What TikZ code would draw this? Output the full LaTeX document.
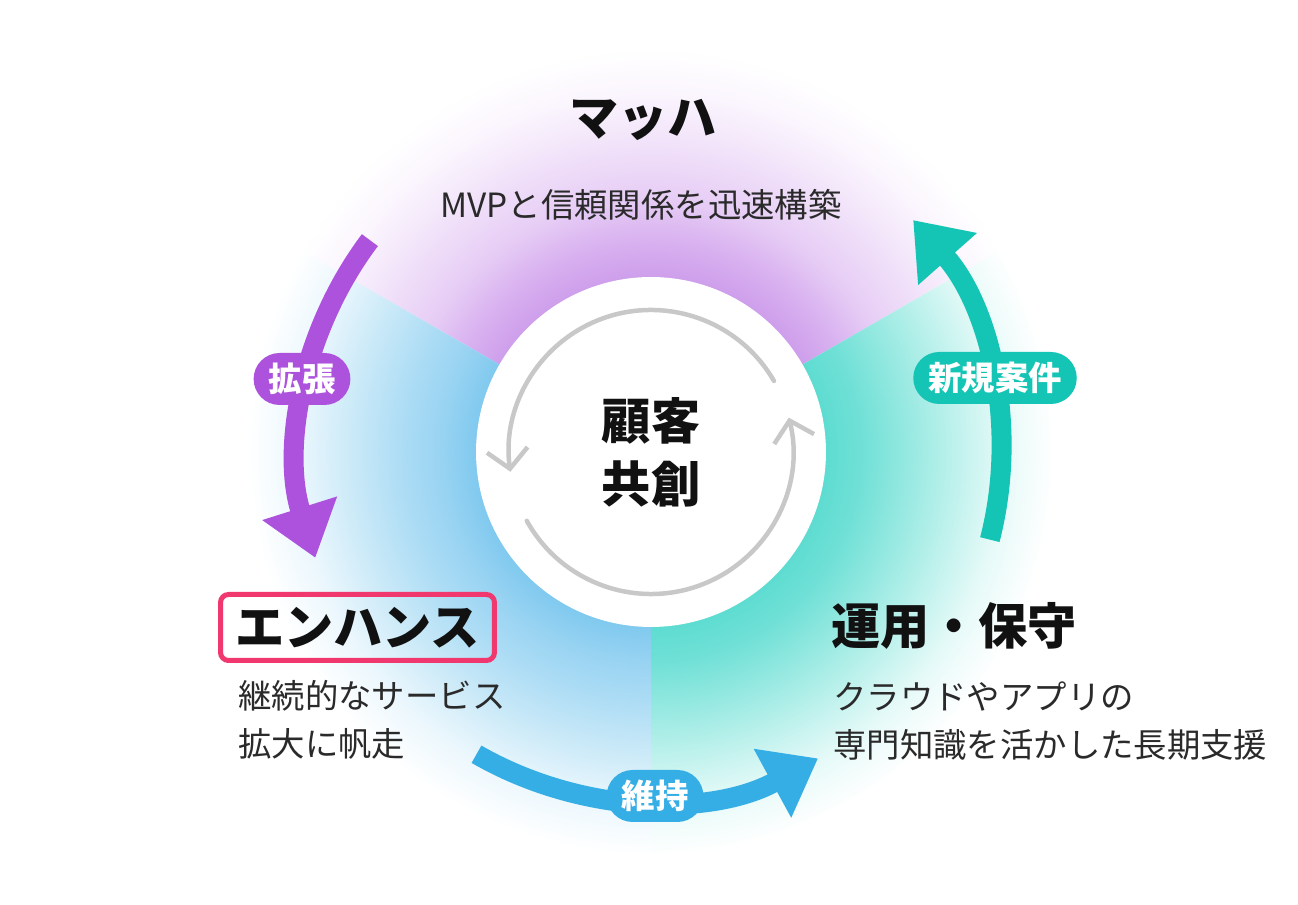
\documentclass[tikz,border=0pt]{standalone}
\usepackage{fontspec}
\setmainfont{Noto Sans CJK JP}
\usetikzlibrary{arrows.meta}
\definecolor{purpA}{HTML}{CE9EEB}
\definecolor{purpB}{HTML}{D9B2F0}
\definecolor{purpC}{HTML}{E6CCF5}
\definecolor{purpD}{HTML}{F5EAFB}
\definecolor{purpE}{HTML}{FBF6FE}
\definecolor{blueA}{HTML}{80C9EF}
\definecolor{blueB}{HTML}{98D3F2}
\definecolor{blueC}{HTML}{AEDDF5}
\definecolor{blueD}{HTML}{CCEAF8}
\definecolor{blueE}{HTML}{EBF7FD}
\definecolor{tealA}{HTML}{5EDCD1}
\definecolor{tealB}{HTML}{70E0D6}
\definecolor{tealC}{HTML}{92E8E0}
\definecolor{tealD}{HTML}{BDF1EC}
\definecolor{tealE}{HTML}{E6FAF8}
\definecolor{arrPurple}{HTML}{AC52DC}
\definecolor{arrTeal}{HTML}{14C4B4}
\definecolor{arrBlue}{HTML}{35AEE5}
\definecolor{ringGray}{HTML}{C8C8C8}
\definecolor{pinkBox}{HTML}{F0386E}
\definecolor{headText}{HTML}{111111}
\definecolor{bodyText}{HTML}{2A2A2A}
\pgfdeclareradialshading{purpsh}{\pgfpoint{0bp}{0bp}}{color(0bp)=(purpA); color(10.4bp)=(purpA); color(12.7bp)=(purpB); color(15bp)=(purpC); color(19.6bp)=(purpD); color(21.5bp)=(purpE); color(24bp)=(white); color(50bp)=(white)}
\pgfdeclareradialshading{bluesh}{\pgfpoint{0bp}{0bp}}{color(0bp)=(blueA); color(10.4bp)=(blueA); color(12.5bp)=(blueB); color(15bp)=(blueC); color(18bp)=(blueD); color(21bp)=(blueE); color(24bp)=(white); color(50bp)=(white)}
\pgfdeclareradialshading{tealsh}{\pgfpoint{0bp}{0bp}}{color(0bp)=(tealA); color(10.4bp)=(tealA); color(12.5bp)=(tealB); color(15bp)=(tealC); color(18bp)=(tealD); color(21bp)=(tealE); color(24bp)=(white); color(50bp)=(white)}
\begin{document}
\begin{tikzpicture}[x=0.02cm,y=0.02cm,
  bigarrow/.style={line width=0.4cm,-{Triangle[length=1.04cm,width=1.5cm]}},
  ringarrow/.style={ringGray,line width=0.09cm,line cap=round,-{Straight Barb[length=0.38cm,width=0.82cm]}},
  pill/.style={rectangle,rounded corners=0.52cm,minimum height=1.04cm,inner xsep=0.3cm,inner ysep=0pt,text=white,font=\bfseries\fontsize{19pt}{19pt}\selectfont},
  heading/.style={inner sep=0pt,text=headText,font=\bfseries\fontsize{28pt}{30pt}\selectfont},
  desc/.style={inner sep=0pt,align=left,text=bodyText,font=\fontsize{19pt}{27.2pt}\selectfont}]
\useasboundingbox (0,0) rectangle (1298,905);
\fill[white] (0,0) rectangle (1298,905);
\coordinate (C) at (651,453);
% sectors
\begin{scope}
\clip (C) -- ++(30:440) arc[start angle=30,end angle=150,radius=440] -- cycle;
\shade[shading=purpsh] (C) circle[radius=420];
\end{scope}
\begin{scope}
\clip (C) -- ++(150:440) arc[start angle=150,end angle=270,radius=440] -- cycle;
\shade[shading=bluesh] (C) circle[radius=420];
\end{scope}
\begin{scope}
\clip (C) -- ++(270:440) arc[start angle=270,end angle=390,radius=440] -- cycle;
\shade[shading=tealsh] (C) circle[radius=420];
\end{scope}
% centre
\node[circle,fill=white,minimum size=7cm,inner sep=0pt,align=center,text=headText,font=\bfseries\fontsize{28pt}{35.7pt}\selectfont] (core) at (C) {顧客\\共創};
\coordinate (g1s) at ([shift={(30:142)}]C);
\coordinate (g2s) at ([shift={(209:142)}]C);
\draw[ringarrow] (g1s) arc[start angle=30,end angle=188,radius=142];
\draw[ringarrow] (g2s) arc[start angle=209,end angle=374,radius=142];
% big arrows
\coordinate (ps) at ([shift={(143:352)}]C);
\coordinate (ts) at ([shift={(-14.5:350)}]C);
\coordinate (bs) at ([shift={(240:349)}]C);
\draw[bigarrow,arrPurple] (ps) arc[start angle=143,end angle=197.5,radius=352];
\draw[bigarrow,arrTeal] (ts) arc[start angle=-14.5,end angle=41.5,radius=350];
\draw[bigarrow,arrBlue] (bs) arc[start angle=240,end angle=298.6,radius=349];
\node[pill,fill=arrPurple] (kakucho) at (302,526) {拡張};
\node[pill,fill=arrTeal] (shinki) at (995,527) {新規案件};
\node[pill,fill=arrBlue] (iji) at (655,109) {維持};
% headings
\node[heading] (mach) at (643,785) {マッハ};
\node[desc] (machd) at (641,700) {MVPと信頼関係を迅速構築};
\node[heading,draw=pinkBox,line width=0.1cm,rounded corners=0.16cm,minimum width=5.48cm,minimum height=1.32cm] (enh) at (357.5,277.5) {エンハンス};
\node[desc,anchor=west] (enhd) at (238,185.5) {継続的なサービス\\拡大に帆走};
\node[heading] (ops) at (954,279) {運用・保守};
\node[desc,anchor=west] (opsd) at (833,184) {クラウドやアプリの\\専門知識を活かした長期支援};
\end{tikzpicture}
\end{document}
